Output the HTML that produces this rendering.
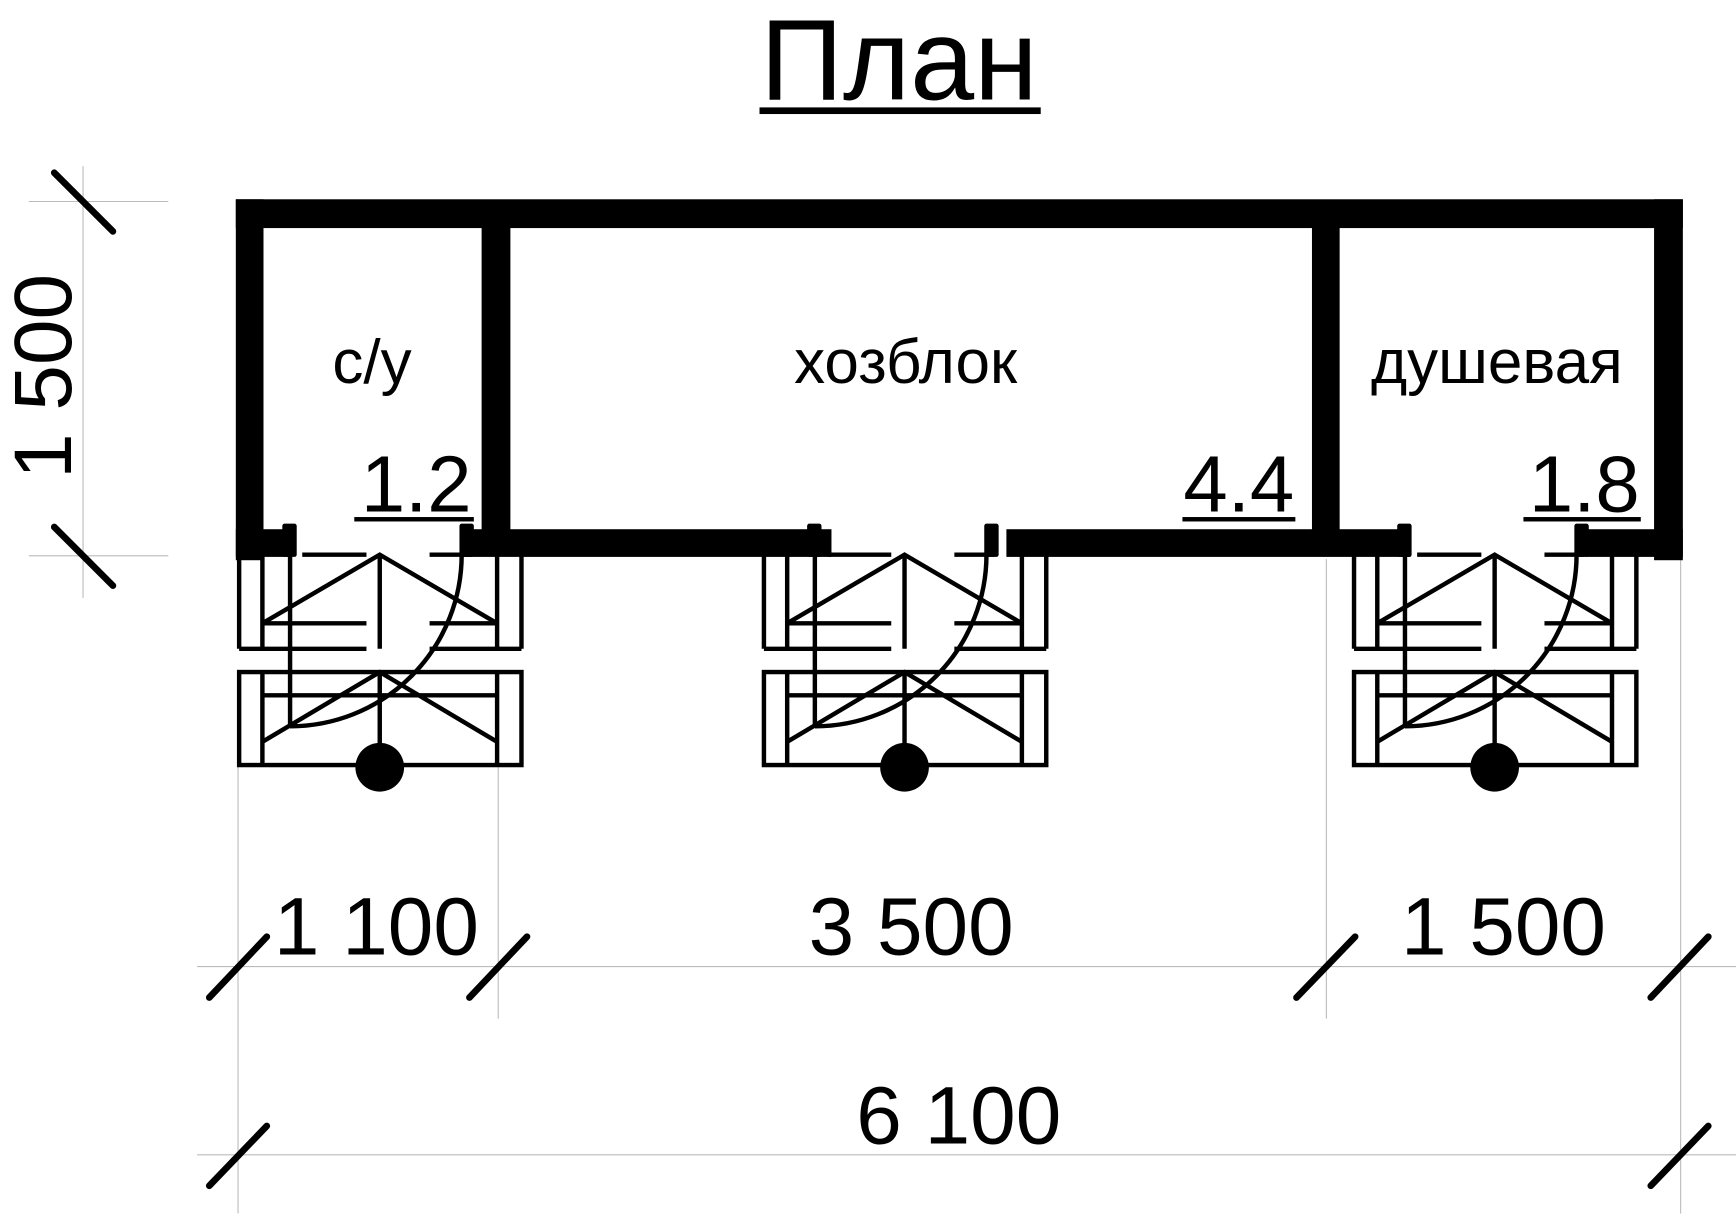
<!DOCTYPE html>
<html><head><meta charset="utf-8"><style>
html,body{margin:0;padding:0;background:#fff;}
svg{display:block;}
text{font-family:"Liberation Sans",Arial,sans-serif;fill:#000;}
</style></head><body>
<svg width="1736" height="1214" viewBox="0 0 1568 1096.5" preserveAspectRatio="none" xmlns="http://www.w3.org/2000/svg">
<defs>
<g id="porch" stroke="#000" stroke-width="4" fill="none">
  <line x1="0" y1="502" x2="0" y2="586"/>
  <line x1="255" y1="502" x2="255" y2="586"/>
  <line x1="21" y1="502" x2="21" y2="586"/>
  <line x1="233" y1="502" x2="233" y2="586"/>
  <line x1="57" y1="501" x2="115" y2="501"/>
  <line x1="172" y1="501" x2="208" y2="501"/>
  <line x1="21" y1="563" x2="115" y2="563"/>
  <line x1="172" y1="563" x2="233" y2="563"/>
  <line x1="0" y1="586" x2="115" y2="586"/>
  <line x1="172" y1="586" x2="255" y2="586"/>
  <line x1="127" y1="501" x2="127" y2="586"/>
  <polyline points="21,563 127,501 233,563"/>
  <rect x="0" y="607" width="255" height="84"/>
  <line x1="21" y1="607" x2="21" y2="691"/>
  <line x1="233" y1="607" x2="233" y2="691"/>
  <line x1="21" y1="628" x2="233" y2="628"/>
  <polyline points="21,670 127,607 233,670"/>
  <line x1="127" y1="607" x2="127" y2="691"/>
  <line x1="46" y1="501" x2="46" y2="656"/>
  <path d="M46,656 A155,155 0 0 0 201,501"/>
  <circle cx="127" cy="693" r="22" fill="#000" stroke="none"/>
  <rect x="39" y="473" width="13" height="30" fill="#000" stroke="none" rx="2"/>
  <rect x="199" y="473" width="13" height="30" fill="#000" stroke="none" rx="2"/>
</g>
</defs>

<text x="812" y="90" font-size="104" text-anchor="middle">План</text>
<rect x="686" y="97" width="254" height="6" fill="#000"/>

<g stroke="#bbb" stroke-width="1">
  <line x1="26" y1="182" x2="152" y2="182"/>
  <line x1="26" y1="502" x2="152" y2="502"/>
  <line x1="75" y1="150" x2="75" y2="540"/>
  <line x1="178" y1="873" x2="1568" y2="873"/>
  <line x1="178" y1="1043" x2="1568" y2="1043"/>
  <line x1="215" y1="692" x2="215" y2="1096"/>
  <line x1="450" y1="692" x2="450" y2="920"/>
  <line x1="1198" y1="505" x2="1198" y2="920"/>
  <line x1="1518" y1="505" x2="1518" y2="1096"/>
</g>
<g stroke="#000" stroke-width="6" stroke-linecap="round">
  <line x1="49" y1="156" x2="102" y2="209"/>
  <line x1="49" y1="476" x2="102" y2="529"/>
  <line x1="189" y1="901" x2="241" y2="846"/>
  <line x1="424" y1="901" x2="476" y2="846"/>
  <line x1="1171" y1="901" x2="1224" y2="846"/>
  <line x1="1491" y1="901" x2="1543" y2="846"/>
  <line x1="189" y1="1071" x2="241" y2="1017"/>
  <line x1="1491" y1="1071" x2="1543" y2="1017"/>
</g>

<text x="340" y="862" font-size="74" text-anchor="middle">1 100</text>
<text x="823" y="862" font-size="74" text-anchor="middle">3 500</text>
<text x="1358" y="862" font-size="74" text-anchor="middle">1 500</text>
<text x="866" y="1033" font-size="74" text-anchor="middle">6 100</text>
<text x="0" y="0" font-size="74" text-anchor="middle" transform="translate(64,340) rotate(-90)">1 500</text>

<g fill="#000">
  <rect x="213" y="180" width="1307" height="26"/>
  <rect x="213" y="180" width="25" height="326"/>
  <rect x="1494" y="180" width="26" height="326"/>
  <rect x="435" y="203" width="26" height="277"/>
  <rect x="1185" y="203" width="25" height="277"/>
  <rect x="213" y="478" width="50" height="25"/>
  <rect x="418" y="478" width="333" height="25"/>
  <rect x="909" y="478" width="365" height="25"/>
  <rect x="1432" y="478" width="88" height="25"/>
</g>

<use href="#porch" transform="translate(216,0)"/>
<use href="#porch" transform="translate(690,0)"/>
<use href="#porch" transform="translate(1223,0)"/>

<text x="336" y="346" font-size="56" text-anchor="middle">с/у</text>
<text x="818" y="346" font-size="56" text-anchor="middle">хозблок</text>
<text x="1352" y="346" font-size="56" text-anchor="middle">душевая</text>

<text x="426" y="462" font-size="72" text-anchor="end">1.2</text>
<rect x="320" y="467" width="108" height="4" fill="#000"/>
<text x="1169" y="462" font-size="72" text-anchor="end">4.4</text>
<rect x="1068" y="467" width="102" height="4" fill="#000"/>
<text x="1481" y="462" font-size="72" text-anchor="end">1.8</text>
<rect x="1376" y="467" width="106" height="4" fill="#000"/>
</svg>
</body></html>
